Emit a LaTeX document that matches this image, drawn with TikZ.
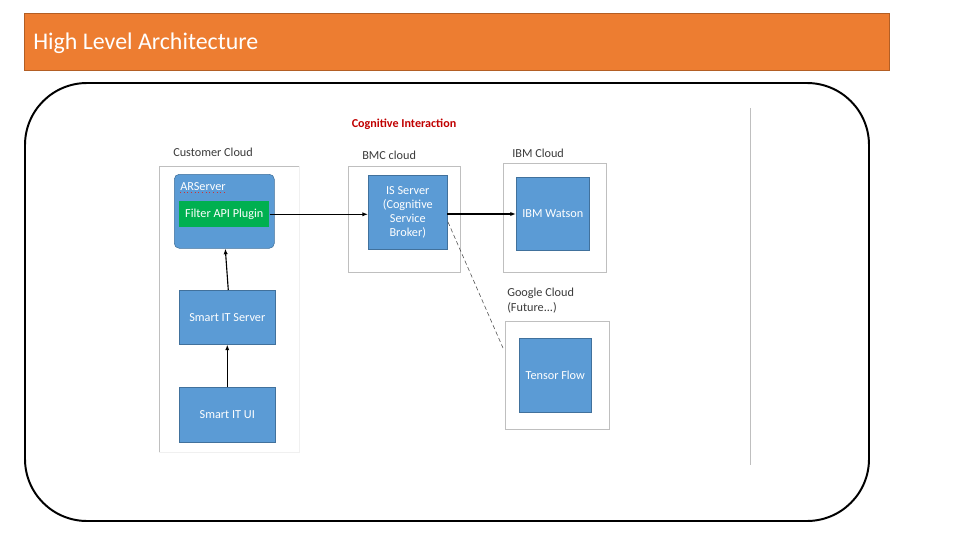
\documentclass[tikz,border=0pt]{standalone}
\usepackage{fontspec}
\setmainfont{Carlito}
\usetikzlibrary{arrows.meta}
\definecolor{orangebar}{HTML}{ED7D31}
\definecolor{orangeedge}{HTML}{B35E24}
\definecolor{boxblue}{HTML}{5B9BD5}
\definecolor{blueedge}{HTML}{41719C}
\definecolor{plugingreen}{HTML}{00B050}
\definecolor{cogred}{HTML}{C00000}
\definecolor{cloudgray}{HTML}{BFBFBF}
\definecolor{labelgray}{HTML}{3A3A3A}
\tikzset{
  bluebox/.style={draw=blueedge, line width=0.4pt, fill=boxblue, text=white, font=\fontsize{8.7}{10}\selectfont, align=center, inner sep=0pt},
  cloudbox/.style={draw=cloudgray, line width=0.6pt},
  cloudlabel/.style={anchor=base west, text=labelgray, font=\fontsize{8.7}{10.5}\selectfont, inner sep=0pt, align=left},
  link/.style={line width=0.8pt, -{Latex[length=4pt,width=3pt]}}
}
\begin{document}
\begin{tikzpicture}[x=0.025cm, y=-0.025cm]
\useasboundingbox (0,0) rectangle (960,540);
% title bar
\node[draw=orangeedge, line width=0.8pt, fill=orangebar, minimum width=865*0.025cm, minimum height=57*0.025cm, inner sep=0pt, anchor=north west] (bar) at (24,13) {};
\node[anchor=base west, text=white, font=\fontsize{17}{20}\selectfont, inner sep=0pt] (title) at (33,49) {High Level Architecture};
% rounded frame
\draw[line width=1.4pt, rounded corners=62*0.025cm] (25,83) rectangle (869,521);
% right gray separator
\draw[cloudgray, line width=0.6pt] (750,108) -- (750,465);
% heading
\node[anchor=base, text=cogred, font=\fontsize{8.6}{10}\selectfont\bfseries, inner sep=0pt] (cog) at (404,127) {Cognitive Interaction};
% customer cloud
\node[cloudlabel] (custlbl) at (173,156) {Customer Cloud};
\draw[cloudgray, line width=0.6pt] (299,166) -- (159,166) -- (159,452);
\draw[black!6, line width=0.6pt] (159,452) -- (299,452) -- (299,166);
\node[bluebox, rounded corners=5*0.025cm, minimum width=100*0.025cm, minimum height=74*0.025cm, anchor=north west] (ars) at (174,174) {};
\node[anchor=base west, text=white, font=\fontsize{8.7}{10}\selectfont, inner sep=0pt] (arslbl) at (180,190) {ARServer};
\draw[cogred!80, line width=0.6pt, dotted] ([yshift=-2*0.025cm]arslbl.base west) -- ([yshift=-2*0.025cm]arslbl.base east);
\node[fill=plugingreen, text=white, font=\fontsize{8.7}{10}\selectfont, inner sep=0pt, minimum width=90*0.025cm, minimum height=26*0.025cm, anchor=north west] (plugin) at (179,201) {Filter API Plugin};
\node[bluebox, minimum width=96*0.025cm, minimum height=54*0.025cm, anchor=north west] (sits) at (179,290) {Smart IT Server};
\node[bluebox, minimum width=96*0.025cm, minimum height=55*0.025cm, anchor=north west] (situi) at (179,387) {Smart IT UI};
% BMC cloud
\node[cloudlabel] (bmclbl) at (362,159) {BMC cloud};
\node[cloudbox, minimum width=112*0.025cm, minimum height=106*0.025cm, anchor=north west, inner sep=0pt] (bmc) at (348,166) {};
\node[bluebox, minimum width=79*0.025cm, minimum height=74*0.025cm, anchor=north west] (is) at (368,175) {IS Server\\(Cognitive\\Service\\Broker)};
% IBM cloud
\node[cloudlabel] (ibmlbl) at (512,157) {IBM Cloud};
\node[cloudbox, minimum width=103*0.025cm, minimum height=109*0.025cm, anchor=north west, inner sep=0pt] (ibm) at (503,163) {};
\node[bluebox, minimum width=73*0.025cm, minimum height=73*0.025cm, anchor=north west] (watson) at (516,177) {IBM Watson};
% Google cloud
\node[cloudlabel] (googlbl) at (507,311) {Google Cloud\\(Future...)};
\node[cloudbox, minimum width=104*0.025cm, minimum height=108*0.025cm, anchor=north west, inner sep=0pt] (goog) at (505,321) {};
\node[bluebox, minimum width=72*0.025cm, minimum height=74*0.025cm, anchor=north west] (tf) at (519,338) {Tensor Flow};
% connectors
\coordinate (isr) at (447,214);
\coordinate (isd) at (448,222);
\coordinate (gend) at (503,348);
\draw[link] (plugin.east) -- (is.west |- plugin.east);
\draw[link] (isr) -- (watson.west |- isr);
\draw[black!70, line width=0.4pt, densely dashed] (isd) -- (gend);
\draw[link] (situi.north) -- (sits.south);
\draw[link] ([xshift=1*0.025cm]sits.north) -- ([xshift=1*0.025cm]ars.south);
\end{tikzpicture}
\end{document}
